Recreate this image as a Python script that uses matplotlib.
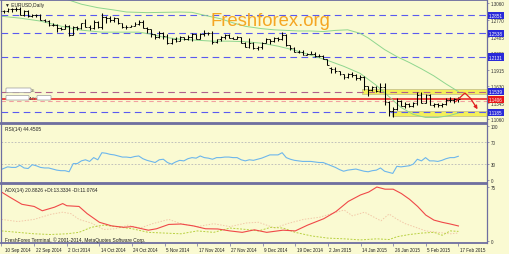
import matplotlib
matplotlib.use('Agg')
import matplotlib.pyplot as plt
import matplotlib.transforms as mtransforms
from matplotlib.patches import Rectangle, FancyBboxPatch
import numpy as np

# ---------------- data ----------------
opens = [1.2940,1.2920,1.2925,1.2960,1.2950,1.2960,1.2860,1.2920,1.2830,1.2850,
1.2850,1.2770,1.2745,1.2685,1.2685,1.2630,1.2620,1.2670,1.2515,1.2650,
1.2630,1.2710,1.2650,1.2630,1.2740,1.2655,1.2815,1.2810,1.2760,1.2800,
1.2710,1.2640,1.2650,1.2670,1.2700,1.2735,1.2630,1.2610,1.2525,1.2480,
1.2550,1.2490,1.2375,1.2450,1.2410,1.2475,1.2440,1.2475,1.2525,1.2450,
1.2530,1.2540,1.2545,1.2390,1.2440,1.2470,1.2505,1.2465,1.2450,1.2470,
1.2380,1.2310,1.2380,1.2290,1.2310,1.2380,1.2440,1.2400,1.2460,1.2440,
1.2510,1.2335,1.2290,1.2225,1.2225,1.2170,1.2190,1.2185,1.2145,1.2150,
1.2100,1.1950,1.1935,1.1890,1.1840,1.1795,1.1840,1.1825,1.1775,1.1790,
1.1630,1.1565,1.1625,1.1545,1.1610,1.1365,1.1205,1.1245,1.1380,1.1290,
1.1320,1.1290,1.1345,1.1480,1.1345,1.1475,1.1315,1.1320,1.1310,1.1330,
1.1400,1.1390,1.1405]
highs = [1.2945,1.2947,1.2982,1.2970,1.2992,1.2990,1.2945,1.2935,1.2868,1.2875,
1.2865,1.2788,1.2770,1.2715,1.2700,1.2645,1.2700,1.2680,1.2665,1.2670,
1.2715,1.2790,1.2685,1.2760,1.2750,1.2887,1.2840,1.2840,1.2815,1.2810,
1.2725,1.2684,1.2690,1.2735,1.2770,1.2765,1.2640,1.2620,1.2535,1.2575,
1.2570,1.2535,1.2465,1.2470,1.2490,1.2485,1.2510,1.2545,1.2530,1.2545,
1.2600,1.2570,1.2580,1.2450,1.2500,1.2530,1.2520,1.2475,1.2500,1.2475,
1.2390,1.2455,1.2390,1.2325,1.2395,1.2455,1.2450,1.2470,1.2480,1.2570,
1.2530,1.2340,1.2300,1.2250,1.2250,1.2210,1.2235,1.2225,1.2185,1.2165,
1.2105,1.1965,1.1965,1.1895,1.1845,1.1865,1.1870,1.1840,1.1830,1.1800,
1.1640,1.1640,1.1635,1.1680,1.1680,1.1380,1.1270,1.1425,1.1390,1.1365,
1.1350,1.1365,1.1535,1.1535,1.1495,1.1490,1.1345,1.1345,1.1350,1.1430,
1.1450,1.1430,1.1445]
lows = [1.2883,1.2897,1.2900,1.2911,1.2917,1.2858,1.2835,1.2815,1.2814,1.2822,
1.2760,1.2730,1.2665,1.2665,1.2570,1.2605,1.2610,1.2500,1.2515,1.2605,
1.2620,1.2640,1.2600,1.2620,1.2625,1.2620,1.2715,1.2740,1.2735,1.2705,
1.2625,1.2615,1.2645,1.2665,1.2690,1.2625,1.2545,1.2485,1.2440,1.2460,
1.2445,1.2360,1.2358,1.2395,1.2400,1.2425,1.2430,1.2400,1.2445,1.2445,
1.2500,1.2505,1.2360,1.2375,1.2410,1.2435,1.2455,1.2435,1.2440,1.2365,
1.2300,1.2280,1.2270,1.2245,1.2265,1.2365,1.2360,1.2395,1.2405,1.2420,
1.2315,1.2245,1.2220,1.2200,1.2165,1.2160,1.2180,1.2135,1.2130,1.2095,
1.2000,1.1860,1.1860,1.1825,1.1755,1.1775,1.1785,1.1745,1.1730,1.1565,
1.1460,1.1555,1.1530,1.1540,1.1315,1.1115,1.1098,1.1220,1.1285,1.1265,
1.1270,1.1275,1.1315,1.1340,1.1345,1.1305,1.1270,1.1270,1.1280,1.1300,
1.1365,1.1350,1.1355]
closes = [1.2920,1.2925,1.2960,1.2950,1.2960,1.2860,1.2920,1.2830,1.2850,1.2850,
1.2770,1.2745,1.2685,1.2685,1.2630,1.2620,1.2670,1.2515,1.2650,1.2630,
1.2710,1.2650,1.2630,1.2740,1.2655,1.2815,1.2810,1.2760,1.2800,1.2710,
1.2640,1.2650,1.2670,1.2700,1.2735,1.2630,1.2610,1.2525,1.2480,1.2550,
1.2490,1.2375,1.2450,1.2410,1.2475,1.2440,1.2475,1.2525,1.2450,1.2530,
1.2540,1.2545,1.2390,1.2440,1.2470,1.2505,1.2465,1.2450,1.2470,1.2380,
1.2310,1.2380,1.2290,1.2310,1.2380,1.2440,1.2400,1.2460,1.2440,1.2510,
1.2335,1.2290,1.2225,1.2225,1.2170,1.2190,1.2185,1.2145,1.2150,1.2100,
1.2000,1.1935,1.1890,1.1840,1.1795,1.1840,1.1825,1.1775,1.1790,1.1630,
1.1565,1.1625,1.1545,1.1610,1.1365,1.1205,1.1245,1.1380,1.1290,1.1320,
1.1290,1.1345,1.1480,1.1345,1.1475,1.1315,1.1320,1.1310,1.1330,1.1400,
1.1390,1.1405,1.1406]

bb_up_idx = [0,4,8,12,17,20,24,28,31,36,40,44,47,50,54,57,60,64,67,70,73,76,79,82,85,88,90,92,94,97,100,103,106,109,112]
bb_up_val = [1.342,1.337,1.329,1.320,1.311,1.304,1.298,1.294,1.2906,1.2895,1.2900,1.2905,1.2900,1.285,1.279,1.272,1.266,1.262,1.260,1.259,1.258,1.258,1.257,1.259,1.260,1.254,1.246,1.236,1.226,1.214,1.204,1.193,1.181,1.167,1.154]
bb_lo_idx = [0,5,10,15,20,25,30,34,37,40,44,48,52,56,60,64,68,72,76,80,84,88,92,95,98,101,104,107,110,112]
bb_lo_val = [1.2836,1.2801,1.2750,1.2663,1.2594,1.2560,1.2560,1.2560,1.2525,1.2474,1.2439,1.2422,1.2405,1.2405,1.2396,1.2370,1.2319,1.2250,1.2163,1.2077,1.1974,1.1853,1.1646,1.1457,1.1267,1.1147,1.1095,1.1095,1.1129,1.1172]

rsi = [19,22,25,24,24,28,23,22,29,27,
24,23,23,21,19,18,18,16,31,31,
36,38,35,42,38,51,50,48,47,45,
43,43,42,44,45,40,37,35,33,38,
39,33,30,34,37,36,40,42,41,45,
42,41,39,42,42,43,43,42,42,38,
36,38,37,39,41,44,47,47,47,51,
42,39,37,36,35,35,35,34,33,33,
30,27,24,20,17,19,20,21,19,17,
16,18,19,23,17,15,13,26,25,26,
27,30,39,36,42,36,36,35,37,40,
42,42,44.45]

adx_idx = [0,2,5,8,10,13,15,16,19,21,24,27,30,32,36,38,41,44,47,50,53,56,59,62,65,69,72,75,79,82,85,88,90,92,94,96,98,100,102,104,106,108,110,112]
adx_val = [68,61,51,48,42,47,52,49,48,38,26,21,19,20,15,17,23,23.6,21,17,16.7,14,12,15.5,12,15,14,22,31,41,55,64,68,75,72,72,66,58,48,36,29,26,23.6,20.88]
mdi_idx = [0,4,8,12,15,17,19,22,25,28,31,34,37,41,44,48,52,56,60,63,67,70,74,78,82,84,86,89,91,93,95,97,99,102,104,107,110,112]
mdi_val = [30,27,30,37,40,38,30,25,16,17,22,18,24,30,24,20,24,20,25,26,18,24,30,33,40,43,35,40,34,28,37.5,30,24,18,14,12,10,11.08]
pdi_idx = [0,4,8,12,16,19,22,25,28,32,36,40,44,48,52,56,60,63,66,69,72,76,80,84,88,92,95,97,100,103,106,108,110,112]
pdi_val = [14,12,10,9,10,12,19,22,20,17,12,11,10,14,12,18,16,14,19,18,12,7,4,3,1.5,3,2,6,9,11,12,8,14,13.33]

level_blue = [1.2851, 1.2538, 1.2131, 1.1185]
level_zone = 1.1539
level_price = 1.1406
price_ticks = [1.3060, 1.2770, 1.2485, 1.2200, 1.1915, 1.1630, 1.1345, 1.1060]
zone_upper = (88.6, 1.1505, 1.1590)
zone_lower = (95.8, 1.1118, 1.1203)
forecast_x = [111.4, 113.6, 115.0]
forecast_y = [1.1370, 1.1515, 1.1420]
forecast_end = (116.7, 1.1235)

date_pos = [0, 8, 16, 24, 32, 40, 48, 56, 64, 72, 80, 88, 96, 104, 112]
date_labels = ['10 Sep 2014', '22 Sep 2014', '2 Oct 2014', '14 Oct 2014', '24 Oct 2014',
               '5 Nov 2014', '17 Nov 2014', '27 Nov 2014', '9 Dec 2014', '19 Dec 2014',
               '2 Jan 2015', '14 Jan 2015', '26 Jan 2015', '5 Feb 2015', '17 Feb 2015']

# ---------------- figure ----------------
W, H = 510, 255
fig = plt.figure(figsize=(W / 100, H / 100), dpi=100)
BG = '#FAFAD2'
FRAME = '#6E6EA0'
fig.patch.set_facecolor(BG)
SMALL = ['Liberation Sans Narrow', 'Liberation Sans', 'DejaVu Sans']
renderer = fig.canvas.get_renderer()


def fit_size(sample, target_px, family, base=6.0):
    t = fig.text(0, 0, sample, fontsize=base, family=family)
    w = t.get_window_extent(renderer=renderer).width
    t.remove()
    return base * target_px / w


FS_DATE = fit_size('10 Sep 2014', 26, SMALL)
FS_INFO = fit_size('ADX(14) 20.8826 +DI:13.3334 -DI:11.0764', 94, SMALL)
FS_TICK = fit_size('1.3060', 14, SMALL)
FS_WM = fit_size('Freshforex.org', 121, ['Liberation Sans', 'DejaVu Sans'], base=14)


def add_ax(x0, y0, x1, y1):
    a = fig.add_axes([x0 / W, 1 - y1 / H, (x1 - x0) / W, (y1 - y0) / H])
    a.set_facecolor(BG)
    for s in a.spines.values():
        s.set_color(FRAME)
        s.set_linewidth(0.9)
    a.set_xlim(0.5, 119.0)
    a.yaxis.tick_right()
    a.tick_params(axis='y', direction='out', length=1.5, width=0.5, colors=FRAME,
                  labelcolor='#303030', pad=1.2)
    a.tick_params(axis='x', bottom=False, labelbottom=False)
    return a


ax = add_ax(1.5, 1, 487, 123.5)
ax_rsi = add_ax(1.5, 125, 487, 183.5)
ax_adx = add_ax(1.5, 185, 487, 244)
for a in (ax, ax_rsi, ax_adx):
    a.spines['top'].set_linewidth(1.3)
    a.spines['bottom'].set_linewidth(1.3)

idx = np.arange(len(closes))

# ---------------- main price panel ----------------
ax.set_ylim(1.1008, 1.3112)
ax.set_yticks(price_ticks)
ax.set_yticklabels([f'{v:.4f}' for v in price_ticks], family=SMALL, fontsize=FS_TICK)

for x0, y0, y1 in (zone_upper, zone_lower):
    ax.add_patch(Rectangle((x0, y0), 119.0 - x0, y1 - y0, facecolor='#F4F05A',
                           edgecolor='#C8C48C', linewidth=0.6, zorder=1))

for lv in level_blue:
    ax.axhline(lv, color='#5A5AF0', lw=0.8, ls=(0, (6, 4)), zorder=2)
ax.axhline(level_zone, color='#B0608A', lw=0.8, ls=(0, (6, 4)), zorder=2)
ax.axhline(level_price - 0.0032, color='#F2A0A0', lw=0.8, ls=(0, (4, 3)), zorder=2)
ax.axhline(level_price, color='#E81818', lw=1.1, zorder=2)

ax.plot(bb_up_idx, bb_up_val, color='#8FD68F', lw=0.7, zorder=2)
ax.plot(bb_lo_idx, bb_lo_val, color='#8FD68F', lw=0.7, zorder=2)

ax.vlines(idx, lows, highs, color='black', lw=0.75, zorder=4)
ax.hlines(opens, idx - 0.45, idx, color='black', lw=0.6, zorder=4)
ax.hlines(closes, idx, idx + 0.45, color='black', lw=0.6, zorder=4)

ax.plot(forecast_x, forecast_y, color='#E02020', lw=0.9, zorder=5)
ax.annotate('', xy=forecast_end, xytext=(forecast_x[-1], forecast_y[-1]),
            arrowprops=dict(arrowstyle='-|>', color='#E02020', lw=0.9,
                            mutation_scale=5, shrinkA=0, shrinkB=0), zorder=5)

ytr = ax.get_yaxis_transform()
for lv in level_blue + [level_zone]:
    ax.text(1.004, lv, f'{lv:.4f}', transform=ytr, ha='left', va='center',
            fontsize=FS_TICK, family=SMALL, color='white', clip_on=False, zorder=6,
            bbox=dict(boxstyle='square,pad=0.25', facecolor='#2A2AD8', edgecolor='#2A2AD8', lw=0))
ax.text(1.004, level_price, f'{level_price:.4f}', transform=ytr, ha='left', va='center',
        fontsize=FS_TICK, family=SMALL, color='white', clip_on=False, zorder=6,
        bbox=dict(boxstyle='square,pad=0.25', facecolor='#E81818', edgecolor='#E81818', lw=0))

ax.text(0.553, 0.835, 'Freshforex.org', transform=ax.transAxes, ha='center', va='center',
        fontsize=FS_WM, family=['Liberation Sans', 'DejaVu Sans'], color='#F5A623', zorder=3)
ax.text(0.008, 0.965, '\u25bc EURUSD,Daily', transform=ax.transAxes, ha='left', va='center',
        fontsize=FS_INFO, family=SMALL + ['DejaVu Sans'], color='#202020', zorder=6)

for (bx0, by0, bw, bh) in [(7, 89.5, 23, 3.5), (7, 97.0, 21, 3.5), (38, 97.0, 12, 3.5)]:
    fig.patches.append(FancyBboxPatch((bx0 / W, 1 - (by0 + bh) / H), bw / W, bh / H,
                                      boxstyle='round,pad=0.002', transform=fig.transFigure,
                                      facecolor='white', edgecolor='#9A9A9A', lw=0.5, zorder=10))
fig.text(31 / W, 1 - 91.5 / H, '25', fontsize=FS_INFO * 0.8, family=SMALL, color='#505050', va='center')
fig.text(29 / W, 1 - 99 / H, '4UY', fontsize=FS_INFO * 0.8, family=SMALL, color='#505050', va='center')

# ---------------- RSI panel ----------------
ax_rsi.set_ylim(-3.7, 103.7)
ax_rsi.set_yticks([0, 30, 70, 100])
ax_rsi.set_yticklabels(['0', '30', '70', '100'], family=SMALL, fontsize=FS_TICK)
for lv in (30, 70):
    ax_rsi.axhline(lv, color='#B8B8B8', lw=0.6, ls=(0, (2, 2)))
ax_rsi.plot(idx, rsi, color='#6DB6EC', lw=0.8)
ax_rsi.text(0.008, 0.93, 'RSI(14) 44.4505', transform=ax_rsi.transAxes, ha='left', va='center',
            fontsize=FS_INFO, family=SMALL, color='#202020')

# ---------------- ADX panel ----------------
ax_adx.set_ylim(-2.8, 79.2)
ax_adx.set_yticks([0, 75])
ax_adx.set_yticklabels(['0', '75'], family=SMALL, fontsize=FS_TICK)
ax_adx.plot(mdi_idx, mdi_val, color='#F2C8A8', lw=0.7, ls=(0, (1.5, 1.5)))
ax_adx.plot(pdi_idx, pdi_val, color='#B8D040', lw=0.7, ls=(0, (2, 1.5)))
ax_adx.plot(adx_idx, adx_val, color='#F04848', lw=0.8)
ax_adx.text(0.008, 0.9, 'ADX(14) 20.8826 +DI:13.3334 -DI:11.0764', transform=ax_adx.transAxes,
            ha='left', va='center', fontsize=FS_INFO, family=SMALL, color='#202020')
ax_adx.text(0.008, 0.07, 'FreshForex Terminal, \u00a9 2001-2014, MetaQuotes Software Corp.',
            transform=ax_adx.transAxes, ha='left', va='center', fontsize=FS_INFO, family=SMALL,
            color='#202020')

ax_adx.set_xticks(date_pos)
ax_adx.tick_params(axis='x', bottom=True, direction='out', length=2, width=0.5, colors=FRAME,
                   labelbottom=False)
btr = mtransforms.blended_transform_factory(ax_adx.transData, ax_adx.transAxes)
for p, lab in zip(date_pos, date_labels):
    ax_adx.text(max(p, 0.6) + 0.35, -0.06, lab, transform=btr, ha='left', va='top',
                fontsize=FS_DATE, family=SMALL, color='#202020', clip_on=False)

fig.savefig('out.png', dpi=100, facecolor=BG)
